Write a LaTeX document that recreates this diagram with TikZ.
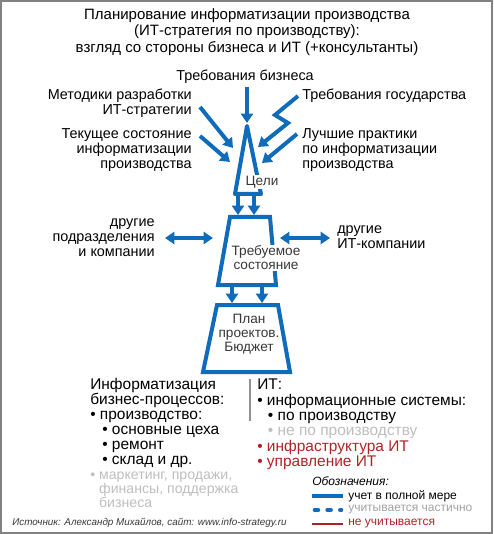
\documentclass[tikz,border=0pt]{standalone}
\usepackage{fontspec}
\setmainfont{Liberation Sans}
\usetikzlibrary{arrows.meta}
\definecolor{bl}{RGB}{16,107,186}
\definecolor{gtxt}{RGB}{190,190,190}
\definecolor{rd}{RGB}{175,35,40}
\definecolor{dg}{RGB}{55,55,55}
\definecolor{frm}{RGB}{130,130,130}
\definecolor{bar}{RGB}{145,145,145}
\begin{document}
\begin{tikzpicture}[x=0.75pt,y=-0.75pt,
  bline/.style={draw=bl,line width=3pt,line join=round},
  arr/.style={draw=bl,line width=3pt,-{Triangle[length=7pt,width=9pt]}},
  darr/.style={draw=bl,line width=3pt,{Triangle[length=7pt,width=9pt]}-{Triangle[length=7pt,width=9pt]}},
  lbl/.style={inner sep=0pt,font=\fontsize{10.8pt}{11.25pt}\selectfont},
  shp/.style={inner sep=1pt,fill=white,text=dg,font=\fontsize{10.2pt}{10.5pt}\selectfont,align=center},
  big/.style={inner sep=0pt,font=\fontsize{11.6pt}{11.3pt}\selectfont,align=left,anchor=west},
  legtxt/.style={inner sep=0pt,anchor=west,font=\fontsize{9pt}{9pt}\selectfont},
]
\useasboundingbox (0,0) rectangle (493,534);
\draw[frm,line width=1.5pt] (1,1) rectangle (492,533);

% title
\node[inner sep=0pt,font=\fontsize{11.25pt}{12.4pt}\selectfont,align=center] (title) at (247,32)
  {Планирование информатизации производства\\(ИТ-стратегия по производству):\\взгляд со стороны бизнеса и ИТ (+консультанты)};

% input labels
\node[lbl] (req) at (245,77) {Требования бизнеса};
\node[lbl,align=right,anchor=east] (meth) at (192,103) {Методики разработки\\ИТ-стратегии};
\node[lbl,align=right,anchor=east] (cur) at (192,150) {Текущее состояние\\информатизации\\производства};
\node[lbl,anchor=west] (gov) at (302,96) {Требования государства};
\node[lbl,align=left,anchor=west] (best) at (302,150) {Лучшие практики\\по информатизации\\производства};

% arrow endpoints
\coordinate (reqS) at (247,87);   \coordinate (reqE) at (247,123);
\coordinate (methS) at (200,107); \coordinate (methE) at (233,148);
\coordinate (curS) at (200,136);  \coordinate (curE) at (230,162);
\coordinate (govS) at (298,96);   \coordinate (govM1) at (275,115);
\coordinate (govM2) at (288,123); \coordinate (govE) at (258,147);
\coordinate (bestS) at (297,134); \coordinate (bestE) at (262,163);

\draw[arr] (reqS) -- (reqE);
\draw[arr] (methS) -- (methE);
\draw[arr] (curS) -- (curE);
\draw[arr,line join=miter] (govS) -- (govM1) -- (govM2) -- (govE);
\draw[arr] (bestS) -- (bestE);

% goals triangle
\coordinate (gA) at (247,126); \coordinate (gL) at (235,194); \coordinate (gR) at (261,194);
\draw[bline] (gR) -- (gA) -- (gL) -- cycle;
\node[shp] (goal) at (262,182) {Цели};

% required state
\coordinate (t2a) at (230,217); \coordinate (t2b) at (270,217);
\coordinate (t2c) at (276,285); \coordinate (t2d) at (218,285);
\draw[bline,line join=miter] (t2a) -- (t2b) -- (t2c) -- (t2d) -- cycle;
\node[shp] (state) at (266,258) {Требуемое\\состояние};

% plan
\coordinate (t3a) at (217,305); \coordinate (t3b) at (278,305);
\coordinate (t3c) at (290,372); \coordinate (t3d) at (203,372);
\draw[bline,line join=miter] (t3a) -- (t3b) -- (t3c) -- (t3d) -- cycle;
\node[shp,fill=none] (plan) at (249,334) {План\\проектов.\\Бюджет};

% arrows between shapes
\coordinate (g1) at (238,195); \coordinate (g1e) at (238,215);
\coordinate (g2) at (254,195); \coordinate (g2e) at (254,215);
\coordinate (s1) at (232,286); \coordinate (s1e) at (232,303);
\coordinate (s2) at (262,286); \coordinate (s2e) at (262,303);
\draw[arr] (g1) -- (g1e);
\draw[arr] (g2) -- (g2e);
\draw[arr] (s1) -- (s1e);
\draw[arr] (s2) -- (s2e);

% side exchange
\node[lbl,align=right,anchor=east] (oth) at (155,238) {другие\\подразделения\\и компании};
\node[lbl,align=left,anchor=west] (oit) at (337,237) {другие\\ИТ-компании};
\coordinate (lA) at (165,238); \coordinate (lB) at (213,238);
\coordinate (rA) at (280,238); \coordinate (rB) at (330,238);
\draw[darr] (lA) -- (lB);
\draw[darr] (rA) -- (rB);

% bottom left block
\node[big] (biz) at (90,423) {Информатизация\\бизнес-процессов:\\• производство:\\\hspace*{9pt}• основные цеха\\\hspace*{9pt}• ремонт\\\hspace*{9pt}• склад и др.};
\node[big,text=gtxt,font=\fontsize{10.6pt}{10.5pt}\selectfont] (biz2) at (90,490) {• маркетинг, продажи,\\\phantom{• }финансы, поддержка\\\phantom{• }бизнеса};

% separator
\coordinate (barT) at (250,379); \coordinate (barB) at (250,421);
\draw[bar,line width=2.2pt] (barT) -- (barB);

% bottom right block
\node[big,font=\fontsize{11.6pt}{11.55pt}\selectfont] (it) at (257,424.5) {ИТ:\\• информационные системы:\\\hspace*{8pt}• по производству\\\hspace*{8pt}{\color{gtxt}• не по производству}\\{\color{rd}• инфраструктура ИТ}\\{\color{rd}• управление ИТ}};

% legend
\node[legtxt,font=\itshape\fontsize{9pt}{9pt}\selectfont] (leg) at (312,481) {Обозначения:};
\coordinate (l1a) at (312,496); \coordinate (l1b) at (343,496);
\coordinate (l2a) at (315,510); \coordinate (l2b) at (341,510);
\coordinate (l3a) at (312,524); \coordinate (l3b) at (343,524);
\draw[bl,line width=3pt] (l1a) -- (l1b);
\draw[bl,line width=3.5pt,line cap=round,dash pattern=on 2.2pt off 7.3pt] (l2a) -- (l2b);
\draw[rd,line width=1pt] (l3a) -- (l3b);
\node[legtxt] (lt1) at (348,496) {учет в полной мере};
\node[legtxt,text=gtxt!85!black] (lt2) at (348,510) {учитывается частично};
\node[legtxt,text=rd] (lt3) at (348,524) {не учитывается};

% source
\node[inner sep=0pt,anchor=west,text=dg,font=\itshape\fontsize{7.4pt}{8pt}\selectfont] (src) at (12,523) {Источник: Александр Михайлов, сайт: www.info-strategy.ru};
\end{tikzpicture}
\end{document}
